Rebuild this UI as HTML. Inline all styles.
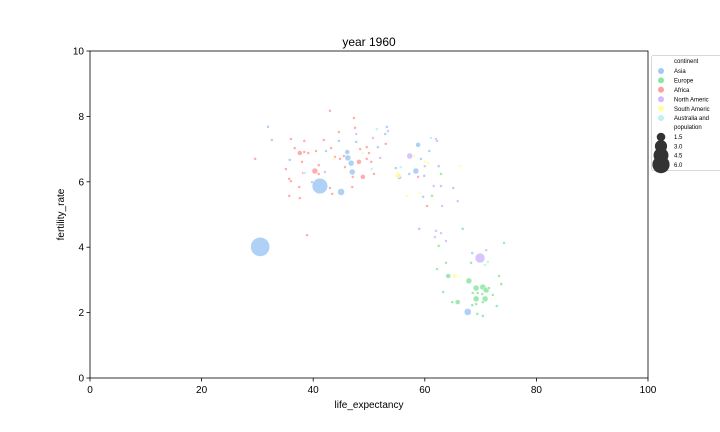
<!DOCTYPE html>
<html><head><meta charset="utf-8"><style>
html,body{margin:0;padding:0;background:#fff;}
svg{display:block;font-family:"Liberation Sans","DejaVu Sans",sans-serif;}
</style></head><body>
<svg id="chart" width="720" height="432" viewBox="0 0 720 432" xmlns="http://www.w3.org/2000/svg">
<rect x="0" y="0" width="720" height="432" fill="#fff"/>
<text x="369" y="46" font-size="12" text-anchor="middle" fill="#000">year 1960</text>
<g id="points"></g>
<g id="axes"></g>
<text x="369" y="408" font-size="10" text-anchor="middle">life_expectancy</text>
<text x="0" y="0" font-size="10" text-anchor="middle" transform="translate(64,214.5) rotate(-90)">fertility_rate</text>
<g id="legend"></g>
</svg>
<script>
const xTicks=[0,20,40,60,80,100];
const yTicks=[0,2,4,6,8,10];
const continents=["Asia","Europe","Africa","North America","South America","Australia and Oceania"];
const legendLabels=["Asia","Europe","Africa","North Americ","South Americ","Australia and"];
const sizeLegend=[1.5,3.0,4.5,6.0];

const africaLife=[43.0,47.3,47.5,44.6,36.0,38.4,36.7,37.6,38.4,39.1,40.5,41.9,43.2,49.6,48.4,50.0,53.0,45.5,48.2,49.6,50.4,43.9,44.8,29.6,38.0,40.3,41.0,35.1,38.2,41.0,45.7,47.1,48.9,50.9,35.7,36.0,37.5,43.0,47.0,43.4,35.7,37.6,38.9,58.8,60.4];
const africaFert=[8.17,7.95,7.65,7.52,7.31,7.25,7.03,6.88,6.91,6.88,6.94,7.28,7.03,7.06,7.00,6.88,7.16,6.79,6.61,6.70,6.61,6.76,6.70,6.70,6.61,6.33,6.51,6.39,6.27,6.24,6.45,6.15,6.15,6.24,6.09,6.02,5.84,5.81,5.84,5.63,5.57,5.50,4.37,6.15,5.26];
const africaPop=[0.1,0.1,0.1,0.1,0.1,0.1,0.1,0.45,0.1,0.1,0.1,0.1,0.1,0.1,0.1,0.1,0.1,0.1,0.45,0.1,0.1,0.1,0.1,0.1,0.1,0.65,0.1,0.1,0.1,0.1,0.1,0.1,0.45,0.1,0.1,0.1,0.1,0.1,0.1,0.1,0.1,0.1,0.1,0.1,0.1];

const asiaLife=[31.9,32.6,42.3,44.6,46.1,47.7,51.6,53.2,52.9,46.2,46.8,35.8,47.0,39.8,58.8,59.3,60.8,62.2,58.4,55.4,54.8,57.2,59.9,62.5,62.9,65.1,59.7,59.0,68.5,30.5,41.2,45.0,67.7];
const asiaFert=[7.68,7.28,6.94,7.25,6.91,7.22,7.06,7.68,7.46,6.73,6.57,6.67,6.30,5.99,7.13,6.70,6.94,7.25,6.33,6.15,6.42,6.24,6.18,6.48,5.87,5.81,5.54,4.56,3.82,4.01,5.87,5.69,2.02];
const asiaPop=[0.1,0.1,0.1,0.1,0.45,0.1,0.1,0.1,0.1,0.65,0.65,0.1,0.65,0.1,0.45,0.1,0.1,0.1,0.65,0.45,0.1,0.1,0.1,0.1,0.1,0.1,0.1,0.1,0.1,6.7,4.5,0.9,0.93];

const europeLife=[62.9,66.8,61.3,62.5,74.2,68.3,63.8,62.2,64.2,73.3,73.7,63.3,67.9,69.2,70.4,71.0,71.5,69.5,70.3,68.6,72.2,69.2,70.8,64.9,65.9,69.2,70.4,68.5,72.9,69.4,70.4];
const europeFert=[6.24,4.56,5.57,4.04,4.13,3.52,3.52,3.33,3.12,3.12,2.87,2.63,2.97,2.75,2.78,2.69,2.75,2.60,2.57,2.60,2.54,2.42,2.42,2.32,2.32,2.26,2.32,2.23,2.20,1.96,1.90];
const europePop=[0.1,0.1,0.1,0.1,0.1,0.1,0.1,0.1,0.45,0.1,0.1,0.1,0.65,0.65,0.65,0.65,0.1,0.1,0.1,0.1,0.1,0.65,0.65,0.1,0.45,0.1,0.1,0.1,0.1,0.1,0.1];

const northLife=[47.7,50.7,53.4,42.1,52.0,57.3,62.0,60.0,61.6,65.9,63.1,62.0,62.9,61.8,63.8,71.0,69.9];
const northFert=[7.46,7.34,7.55,6.30,6.73,6.79,7.31,6.48,5.87,5.41,5.26,4.50,4.43,4.31,4.19,3.91,3.67];
const northPop=[0.1,0.1,0.1,0.1,0.1,0.65,0.1,0.1,0.1,0.1,0.1,0.1,0.1,0.1,0.1,0.1,1.8];

const southLife=[48.9,43.7,58.1,60.0,60.6,55.2,66.3,59.1,56.8,65.4];
const southFert=[6.88,6.70,6.79,6.61,6.57,6.21,6.48,5.66,5.57,3.12];
const southPop=[0.1,0.1,0.1,0.1,0.1,0.65,0.1,0.1,0.1,0.45];

const oceaniaLife=[51.4,38.5,50.5,55.7,61.1,71.3,70.8];
const oceaniaFert=[7.61,6.27,6.39,6.45,7.34,3.55,3.46];
const oceaniaPop=[0.1,0.1,0.1,0.1,0.1,0.1,0.1];

const colors=["#a1c9f4","#8de5a1","#ff9f9b","#d0bbff","#fffea3","#b9f2f0"];
const NS="http://www.w3.org/2000/svg";
const L=90,R=648,T=51,B=378;
function xScale(v){return L+(v-0)/(100-0)*(R-L);}
function yScale(v){return B-(v-0)/(10-0)*(B-T);}
function rScale(p){return Math.max(1.5,3.7*Math.sqrt(p));}
function mk(tag,attrs,parent){const e=document.createElementNS(NS,tag);for(const k in attrs)e.setAttribute(k,attrs[k]);parent.appendChild(e);return e;}

const pts=document.getElementById('points');
const series=[
 [africaLife,africaFert,africaPop,2,"africa"],
 [asiaLife,asiaFert,asiaPop,0,"asia"],
 [europeLife,europeFert,europePop,1,"europe"],
 [northLife,northFert,northPop,3,"north-america"],
 [southLife,southFert,southPop,4,"south-america"],
 [oceaniaLife,oceaniaFert,oceaniaPop,5,"oceania"]
];
series.forEach(s=>{
 const [lx,fy,pp,ci,nm]=s;
 lx.forEach((v,i)=>{
  const c=mk('circle',{cx:xScale(v),cy:yScale(fy[i]),r:rScale(pp[i]),fill:colors[ci],'fill-opacity':0.85,stroke:'#fff','stroke-width':0.5},pts);
  
  
 });
});

const ax=document.getElementById('axes');
const frame=mk('rect',{x:L,y:T,width:R-L,height:B-T,fill:'none',stroke:'#000','stroke-width':0.8},ax);


xTicks.forEach(t=>{
 const x=xScale(t);
 const tk=mk('line',{x1:x,x2:x,y1:B,y2:B+3.5,stroke:'#000','stroke-width':0.8},ax);
 
 
 const tx=mk('text',{x:x,y:B+15,'font-size':10,'text-anchor':'middle'},ax);
 tx.textContent=t;
 
 
});
yTicks.forEach(t=>{
 const y=yScale(t);
 const tk=mk('line',{x1:L-3.5,x2:L,y1:y,y2:y,stroke:'#000','stroke-width':0.8},ax);
 
 
 const tx=mk('text',{x:L-6,y:y+3.5,'font-size':10,'text-anchor':'end'},ax);
 tx.textContent=t;
 
 
});

const lg=document.getElementById('legend');
const box=mk('rect',{x:651.5,y:55.5,width:75,height:115,rx:2,fill:'#fff',stroke:'#ccc','stroke-width':0.8},lg);


const title=mk('text',{x:674,y:63,'font-size':6},lg);
title.textContent='continent';


legendLabels.forEach((lab,i)=>{
 const y=71+i*9.4;
 const c=mk('circle',{cx:661,cy:y,r:3,fill:colors[i]},lg);
 
 
 const t=mk('text',{x:674,y:y+2.2,'font-size':6},lg);
 t.textContent=lab;
 
 
});
const pt=mk('text',{x:674,y:129,'font-size':6},lg);
pt.textContent='population';


sizeLegend.forEach((v,i)=>{
 const y=137+i*9.2;
 const c=mk('circle',{cx:661,cy:y,r:rScale(v)*0.95,fill:'#333'},lg);
 
 
 const t=mk('text',{x:674,y:y+2.2,'font-size':6},lg);
 t.textContent=v.toFixed(1);
 
 
});
</script>
</body></html>
